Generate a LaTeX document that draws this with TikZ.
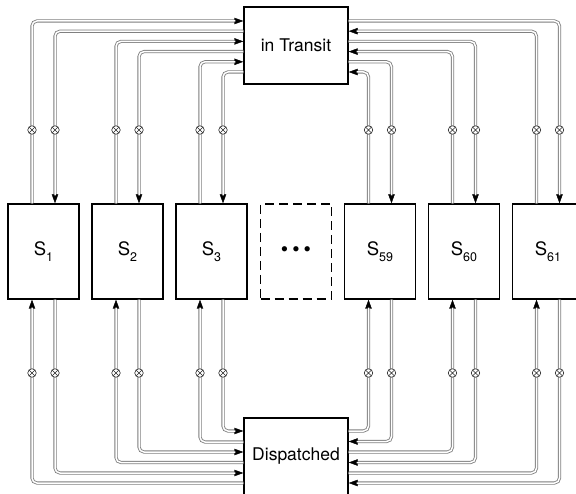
\documentclass[tikz,border=0pt]{standalone}
\usepackage{fontspec}
\setmainfont{TeX Gyre Heros}
\usetikzlibrary{arrows.meta}
\newcommand\sidx[1]{\raisebox{-6pt}{\fontsize{12.5}{12.5}\selectfont #1}}
\begin{document}
\begin{tikzpicture}[x=1pt,y=-1pt,
  box/.style={draw=black, line width=1.4pt, minimum width=71pt, minimum height=95pt, inner sep=0pt, font=\fontsize{18.5}{18.5}\selectfont},
  hub/.style={draw=black, line width=1.4pt, minimum width=104pt, minimum height=77pt, inner sep=0pt, font=\fontsize{17.5}{18}\selectfont},
  conna/.style={draw=black, line width=0.4pt, rounded corners=5pt, -{Triangle[length=9pt,width=6.5pt]},
    preaction={draw=black!50, line width=3.2pt, arrows=-, shorten >=8pt},
    postaction={draw=white, line width=1.5pt, arrows=-, shorten >=8pt}},
  xmark/.style={circle, draw=black!85, line width=0.6pt, fill=white, minimum size=8.5pt, inner sep=0pt,
    path picture={\draw[black!85,line width=0.6pt] (path picture bounding box.south west) -- (path picture bounding box.north east) (path picture bounding box.north west) -- (path picture bounding box.south east);}}
]
\useasboundingbox (0,0) rectangle (576,494);
\clip (0,0) rectangle (576,494);

\node[hub] (T) at (296,45.5) {in Transit};
\node[hub] (D) at (296,456.5) {Dispatched};

\node[box] (S1) at (43.5,251.5) {S\sidx{1}};
\node[box] (S2) at (127.5,251.5) {S\sidx{2}};
\node[box] (S3) at (211.5,251.5) {S\sidx{3}};
\node[box, dash pattern=on 9pt off 5pt] (Sd) at (296,251.5) {\fontsize{21}{21}\selectfont\textbullet\hspace{4pt}\textbullet\hspace{4pt}\textbullet};
\node[box] (S59) at (380,251.5) {S\sidx{59}};
\node[box] (S60) at (464,251.5) {S\sidx{60}};
\node[box] (S61) at (548,251.5) {S\sidx{61}};

\foreach \s in {S1,S2,S3,S59,S60,S61} {
  \coordinate (\s-L) at ([xshift=-11.5pt]\s.center);
  \coordinate (\s-R) at ([xshift=11.5pt]\s.center);
}

\foreach \s/\tl/\tr/\bl/\br in {S1/21/31.2/483/473, S2/41.4/51.6/462.5/452, S3/61.8/72/442/431} {
  \draw[conna] (\s-L |- \s.north) |- (T.west |- 0,\tl);
  \draw[conna] (T.west |- 0,\tr) -| (\s-R |- \s.north);
  \draw[conna] (D.west |- 0,\bl) -| (\s-L |- \s.south);
  \draw[conna] (\s-R |- \s.south) |- (D.west |- 0,\br);
}
\foreach \s/\tl/\tr/\bl/\br in {S59/72/61.8/431/441.5, S60/51.6/41.4/452/462.5, S61/31.2/21/473/483} {
  \draw[conna] (\s-L |- \s.north) |- (T.east |- 0,\tl);
  \draw[conna] (T.east |- 0,\tr) -| (\s-R |- \s.north);
  \draw[conna] (D.east |- 0,\bl) -| (\s-L |- \s.south);
  \draw[conna] (\s-R |- \s.south) |- (D.east |- 0,\br);
}

\foreach \s in {S1,S2,S3,S59,S60,S61} {
  \node[xmark] (\s-tl) at (\s-L |- 0,130) {};
  \node[xmark] (\s-tr) at (\s-R |- 0,130) {};
  \node[xmark] (\s-bl) at (\s-L |- 0,373) {};
  \node[xmark] (\s-br) at (\s-R |- 0,373) {};
}
\end{tikzpicture}
\end{document}
